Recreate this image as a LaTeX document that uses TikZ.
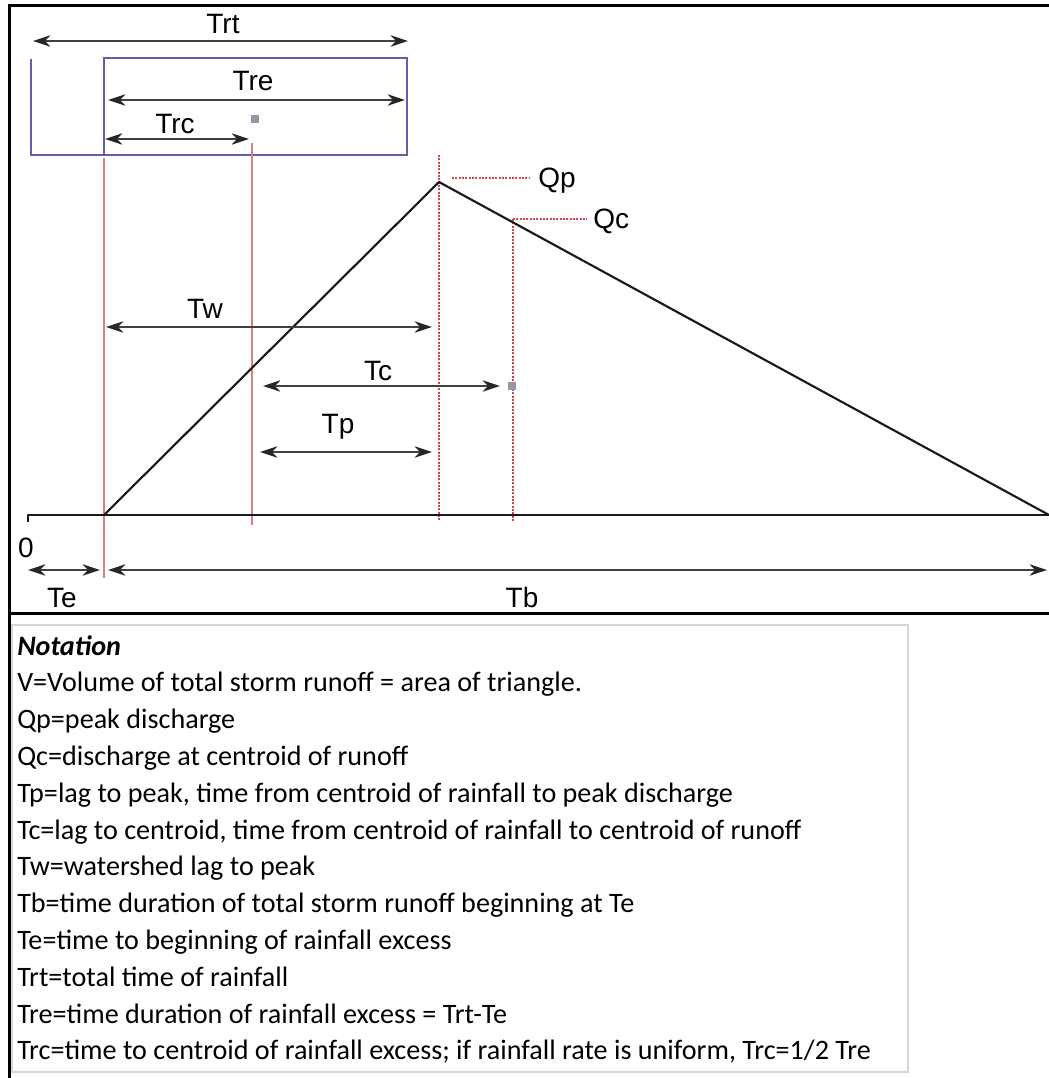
\documentclass[tikz,border=0pt]{standalone}
\usepackage{fontspec}
\setmainfont{Liberation Sans}
\newfontfamily\notefont{Carlito}
\usetikzlibrary{arrows.meta}
\definecolor{boxblue}{RGB}{95,95,170}
\definecolor{guidered}{RGB}{222,125,135}
\definecolor{dashred}{RGB}{215,70,80}
\definecolor{markgray}{RGB}{150,150,168}
\definecolor{notegray}{RGB}{215,215,215}
\begin{document}
\begin{tikzpicture}[x=0.75pt,y=-0.75pt,
  dimarrow/.style={draw=black!75,line width=1.3pt,{Stealth[length=13pt,width=8.5pt,inset=4pt,black!85]}-{Stealth[length=13pt,width=8.5pt,inset=4pt,black!85]}},
  lbl/.style={font=\fontsize{21}{25}\selectfont,inner sep=0pt,anchor=base},
  qlbl/.style={font=\fontsize{21}{25}\selectfont,inner sep=0pt,anchor=base west},
  note/.style={font=\notefont\fontsize{21.1}{25}\selectfont,inner sep=0pt,anchor=base west},
  guide/.style={draw=guidered,line width=0.8pt},
  dguide/.style={draw=dashred,line width=0.8pt,dash pattern=on 1.5pt off 1pt},
  bluebox/.style={draw=boxblue,line width=1.1pt},
  marksq/.style={fill=markgray,minimum size=6pt,inner sep=0pt},
  curve/.style={draw=black!90,line width=1.6pt,line join=round},
  frame/.style={draw=black,line width=2.2pt},
]
\useasboundingbox (0,0) rectangle (1049,1078);

% frame
\draw[frame] (9.5,1078) -- (9.5,5.5) -- (1049,5.5);
\draw[draw=black,line width=1.6pt] (9.5,613.5) -- (1049,613.5);

% rainfall box
\draw[bluebox] (104,58) rectangle (407,155);
\draw[bluebox] (31,59) -- (31,155) -- (104,155);

% named points
\coordinate (trtL) at (33,41);   \coordinate (trtR) at (408,41);
\coordinate (treL) at (108,100); \coordinate (treR) at (405,100);
\coordinate (trcL) at (105,139); \coordinate (trcR) at (249,139);
\coordinate (twL) at (106,327);  \coordinate (twR) at (432,327);
\coordinate (tcL) at (263,386);  \coordinate (tcR) at (500,386);
\coordinate (tpL) at (260,452);  \coordinate (tpR) at (432,452);
\coordinate (teL) at (28,570);   \coordinate (teR) at (100,570);
\coordinate (tbL) at (108,570);  \coordinate (tbR) at (1047,570);
\coordinate (start) at (104,515);
\coordinate (peak) at (439,182);
\coordinate (endp) at (1049,515);
\coordinate (axL) at (28,515);
\coordinate (axT) at (28,522);
\coordinate (qpL) at (452,178);  \coordinate (qpR) at (530,178);
\coordinate (qcP) at (513,219);  \coordinate (qcR) at (587,219);

% guide lines
\draw[guide] (104,158) -- (104,578);
\draw[guide] (252,143) -- (252,525);
\draw[dguide] (439,155) -- (439,520);
\draw[dguide] (qcP) -- (513,522);
\draw[dguide] (qpL) -- (qpR);
\draw[dguide] (qcP) -- (qcR);

% axis and hydrograph
\draw[curve] (axT) -- (axL) -- (endp);
\draw[curve] (start) -- (peak) -- (endp);

% centroid markers
\node[marksq] (rainc) at (255,119) {};
\node[marksq] (runc) at (512,386) {};

% dimension arrows
\draw[dimarrow] (trtL) -- (trtR);
\draw[dimarrow] (treL) -- (treR);
\draw[dimarrow] (trcL) -- (trcR);
\draw[dimarrow] (twL) -- (twR);
\draw[dimarrow] (tcL) -- (tcR);
\draw[dimarrow] (tpL) -- (tpR);
\draw[dimarrow] (teL) -- (teR);
\draw[dimarrow] (tbL) -- (tbR);

% labels
\node[lbl] (ltrt) at (223,33) {Trt};
\node[lbl] (ltre) at (253,90) {Tre};
\node[lbl] (ltrc) at (175,133) {Trc};
\node[lbl] (ltw) at (205,318) {Tw};
\node[lbl] (ltc) at (378,380) {Tc};
\node[lbl] (ltp) at (338,433) {Tp};
\node[qlbl] (lqp) at (538,187) {Qp};
\node[qlbl] (lqc) at (593,228) {Qc};
\node[lbl] (lzero) at (26,557) {0};
\node[lbl] (lte) at (62,607) {Te};
\node[lbl] (ltb) at (522,607) {Tb};

% notation
\draw[draw=notegray,line width=1pt] (12,625) rectangle (908,1072);
\node[note] (n0) at (17,655.0) {\bfseries\itshape Notation};
\node[note] (n1) at (17,691.8) {V=Volume of total storm runoff = area of triangle.};
\node[note] (n2) at (17,728.6) {Qp=peak discharge};
\node[note] (n3) at (17,765.4) {Qc=discharge at centroid of runoff};
\node[note] (n4) at (17,802.2) {Tp=lag to peak, time from centroid of rainfall to peak discharge};
\node[note] (n5) at (17,839.0) {Tc=lag to centroid, time from centroid of rainfall to centroid of runoff};
\node[note] (n6) at (17,875.8) {Tw=watershed lag to peak};
\node[note] (n7) at (17,912.6) {Tb=time duration of total storm runoff beginning at Te};
\node[note] (n8) at (17,949.4) {Te=time to beginning of rainfall excess};
\node[note] (n9) at (17,986.2) {Trt=total time of rainfall};
\node[note] (n10) at (17,1023.0) {Tre=time duration of rainfall excess = Trt-Te};
\node[note] (n11) at (17,1059.8) {Trc=time to centroid of rainfall excess; if rainfall rate is uniform, Trc=1/2 Tre};
\end{tikzpicture}
\end{document}
